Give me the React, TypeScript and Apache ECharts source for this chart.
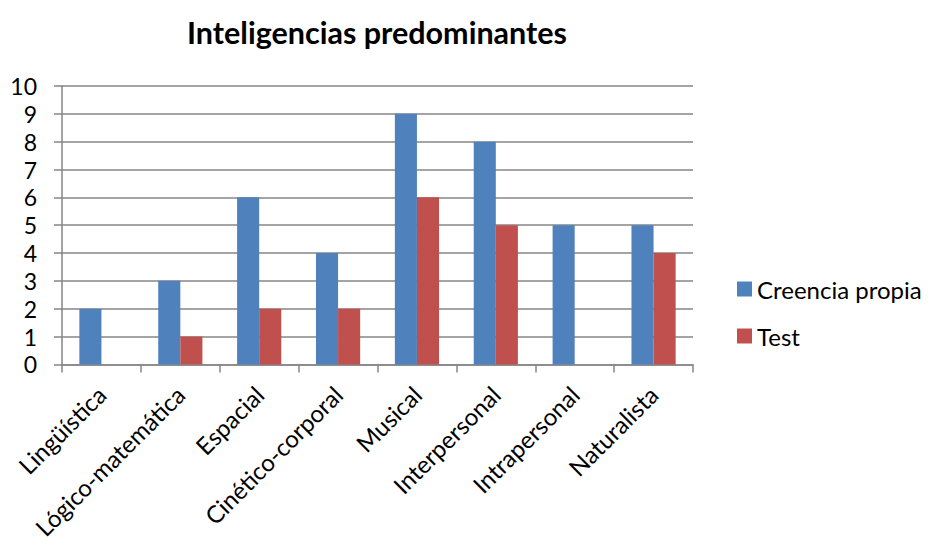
import React, { useEffect, useRef } from "react";
import * as echarts from "echarts";

const categories = ["Lingüística", "Lógico-matemática", "Espacial", "Cinético-corporal", "Musical", "Interpersonal", "Intrapersonal", "Naturalista"];
const creenciaPropia = [2, 3, 6, 4, 9, 8, 5, 5];
const test = [0, 1, 2, 2, 6, 5, 0, 4];

const FONT = "Lato, 'Open Sans', sans-serif";

export default function App() {
  const ref = useRef<HTMLDivElement>(null);
  useEffect(() => {
    const chart = echarts.init(ref.current!, null, { renderer: "svg" });
    chart.setOption({
      animation: false,
      backgroundColor: "#ffffff",
      title: {
        text: "Inteligencias predominantes",
        left: 372,
        top: 11,
        textAlign: "center",
        textStyle: { fontFamily: FONT, fontWeight: "bold", fontSize: 30.5, color: "#000" },
      },
      legend: {
        orient: "vertical",
        left: 737,
        top: 277,
        padding: 0,
        itemWidth: 15,
        itemHeight: 15,
        itemGap: 23,
        icon: "rect",
        textStyle: { fontFamily: FONT, fontSize: 24, color: "#000" },
        data: ["Creencia propia", "Test"],
      },
      grid: { left: 62, right: 235, top: 86, bottom: 176, containLabel: false },
      xAxis: {
        type: "category",
        data: categories,
        axisLine: { lineStyle: { color: "#868686", width: 1.5 } },
        axisTick: { show: true, length: 8, lineStyle: { color: "#868686", width: 1.5 } },
        axisLabel: { rotate: 45, fontFamily: FONT, fontSize: 24, color: "#000", margin: 26, interval: 0 },
      },
      yAxis: {
        type: "value",
        min: 0,
        max: 10,
        interval: 1,
        axisLine: { show: true, lineStyle: { color: "#868686", width: 1.5 } },
        axisTick: { show: true, length: 8, lineStyle: { color: "#868686", width: 1.5 } },
        splitLine: { lineStyle: { color: "#868686", width: 1.5 } },
        axisLabel: { fontFamily: FONT, fontSize: 23, color: "#000", margin: 25 },
      },
      series: [
        {
          name: "Creencia propia",
          type: "bar",
          data: creenciaPropia,
          itemStyle: { color: "#4F81BD" },
          barGap: "0%",
          barCategoryGap: "44%",
        },
        {
          name: "Test",
          type: "bar",
          data: test,
          itemStyle: { color: "#C0504D" },
          barGap: "0%",
          barCategoryGap: "44%",
        },
      ],
    });
    return () => chart.dispose();
  }, []);
  return <div ref={ref} style={{ width: 928, height: 542, position: "absolute", left: 0, top: 0 }} />;
}
